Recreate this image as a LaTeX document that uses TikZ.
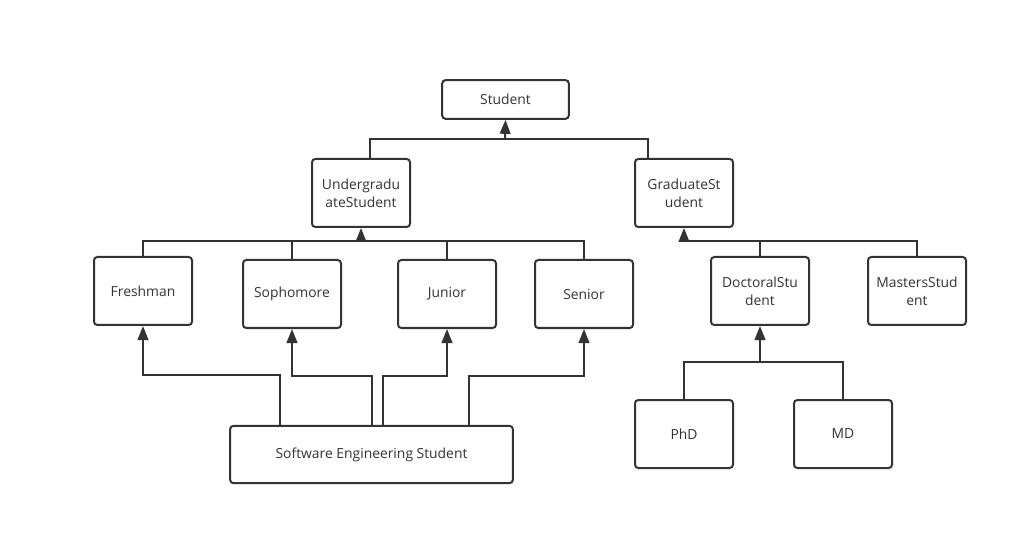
\documentclass[tikz,border=0pt]{standalone}
\usepackage{fontspec}
\setmainfont{Open Sans}
\usetikzlibrary{arrows.meta,positioning}
\definecolor{ink}{HTML}{333333}
\tikzset{
  classbox/.style={
    rectangle, draw=ink, fill=white, line width=1.5pt, rounded corners=2.5pt,
    minimum width=73.5pt, minimum height=51pt,
    font=\fontsize{10.4}{13.5}\selectfont, text=ink, align=center,
    inner sep=0pt
  },
  inherit/.style={
    -{Triangle[length=10.5pt, width=8pt]}, line width=1.5pt, color=ink
  },
  joinline/.style={line width=1.5pt, color=ink},
}

\begin{document}
\begin{tikzpicture}[x=0.75pt, y=-0.75pt]
  \useasboundingbox (0,0) rectangle (1028,545);
  % top
  \node[classbox, minimum width=95pt, minimum height=29pt] (student) at (505.5,99.5) {Student};
  \node[classbox] (ugrad) at (361,193) {Undergradu\\ateStudent};
  \node[classbox] (grad) at (684,193) {GraduateSt\\udent};
  % undergraduate years
  \node[classbox] (fresh) at (143,291) {Freshman};
  \node[classbox] (soph) at (292,294) {Sophomore};
  \node[classbox] (junior) at (447,294) {Junior};
  \node[classbox] (senior) at (584,294) {Senior};
  % graduate
  \node[classbox] (doct) at (760,291) {DoctoralStu\\dent};
  \node[classbox] (mast) at (917,291) {MastersStud\\ent};
  \node[classbox] (phd) at (684,434) {PhD};
  \node[classbox] (md) at (843,434) {MD};
  \node[classbox, minimum width=212pt, minimum height=43pt] (ses) at (371.5,454.5) {Software Engineering Student};

  % bend points
  \coordinate (b1) at (505,139);
  \coordinate (b2) at (361,241);
  \coordinate (b3) at (684,241);
  \coordinate (b4) at (760,362);
  \coordinate (s1) at (143,375);
  \coordinate (s2) at (292,376);
  \coordinate (s3) at (447,376);
  \coordinate (s4) at (584,376);

  \draw[joinline] ([xshift=7pt]ugrad.north) |- (b1);
  \draw[joinline] ([xshift=-27pt]grad.north) |- (b1);
  \draw[inherit] (b1) -- (student.south);

  \draw[joinline] (fresh.north) |- (b2);
  \draw[joinline] (soph.north) |- (b2);
  \draw[joinline] (junior.north) |- (b2);
  \draw[joinline] (senior.north) |- (b2);
  \draw[inherit] (b2) -- (ugrad.south);

  \draw[joinline] (doct.north) |- (b3);
  \draw[joinline] (mast.north) |- (b3);
  \draw[inherit] (b3) -- (grad.south);

  \draw[joinline] (phd.north) |- (b4);
  \draw[joinline] (md.north) |- (b4);
  \draw[inherit] (b4) -- (doct.south);

  \draw[inherit] ([xshift=-69pt]ses.north) |- (s1) -- (fresh.south);
  \draw[inherit] ([xshift=0.5pt]ses.north) |- (s2) -- (soph.south);
  \draw[inherit] ([xshift=8.5pt]ses.north) |- (s3) -- (junior.south);
  \draw[inherit] ([xshift=73pt]ses.north) |- (s4) -- (senior.south);
\end{tikzpicture}
\end{document}
